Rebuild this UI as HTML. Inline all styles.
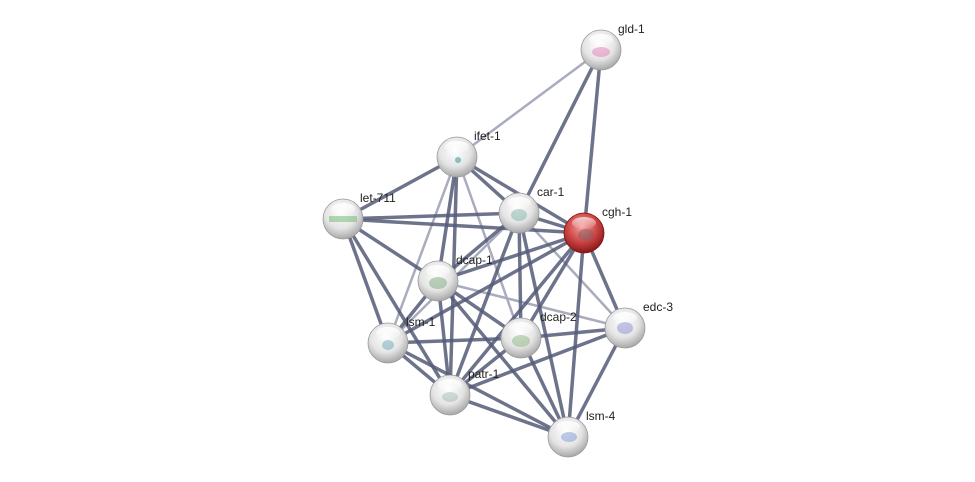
<!DOCTYPE html>
<html><head><meta charset="utf-8"><style>html,body{margin:0;padding:0;background:#fff;}svg{display:block}</style></head>
<body>
<svg width="975" height="482" viewBox="0 0 975 482" xmlns="http://www.w3.org/2000/svg">
<defs>
<radialGradient id="g" cx="45%" cy="35%" r="65%">
<stop offset="0" stop-color="#ffffff"/><stop offset="0.6" stop-color="#e4e4e4"/><stop offset="1" stop-color="#a8a8a8"/>
</radialGradient>
<radialGradient id="r" cx="45%" cy="35%" r="65%">
<stop offset="0" stop-color="#f4a0a0"/><stop offset="0.55" stop-color="#d04848"/><stop offset="1" stop-color="#8a1818"/>
</radialGradient>
<linearGradient id="hl" x1="0" y1="0" x2="0" y2="1"><stop offset="0" stop-color="#fff" stop-opacity="0.95"/><stop offset="1" stop-color="#fff" stop-opacity="0.1"/></linearGradient>
</defs>
<g stroke-linecap="round">
<g stroke="#a9acbd" stroke-width="2.5">
<line x1="601" y1="50" x2="457" y2="157"/>
<line x1="457" y1="157" x2="388" y2="343"/>
<line x1="457" y1="157" x2="521" y2="338"/>
<line x1="519" y1="213" x2="388" y2="343"/>
<line x1="519" y1="213" x2="625" y2="328"/>
<line x1="438" y1="281" x2="625" y2="328"/>
</g>
<g stroke="#555b78" stroke-width="3.5" stroke-opacity="0.85">
<line x1="601" y1="50" x2="519" y2="213"/>
<line x1="601" y1="50" x2="584" y2="233"/>
<line x1="457" y1="157" x2="343" y2="219"/>
<line x1="457" y1="157" x2="519" y2="213"/>
<line x1="457" y1="157" x2="584" y2="233"/>
<line x1="457" y1="157" x2="438" y2="281"/>
<line x1="457" y1="157" x2="450" y2="395"/>
<line x1="343" y1="219" x2="519" y2="213"/>
<line x1="343" y1="219" x2="584" y2="233"/>
<line x1="343" y1="219" x2="438" y2="281"/>
<line x1="343" y1="219" x2="388" y2="343"/>
<line x1="343" y1="219" x2="450" y2="395"/>
<line x1="519" y1="213" x2="584" y2="233"/>
<line x1="519" y1="213" x2="438" y2="281"/>
<line x1="519" y1="213" x2="521" y2="338"/>
<line x1="519" y1="213" x2="450" y2="395"/>
<line x1="519" y1="213" x2="568" y2="437"/>
<line x1="584" y1="233" x2="438" y2="281"/>
<line x1="584" y1="233" x2="625" y2="328"/>
<line x1="584" y1="233" x2="521" y2="338"/>
<line x1="584" y1="233" x2="388" y2="343"/>
<line x1="584" y1="233" x2="450" y2="395"/>
<line x1="584" y1="233" x2="568" y2="437"/>
<line x1="438" y1="281" x2="388" y2="343"/>
<line x1="438" y1="281" x2="521" y2="338"/>
<line x1="438" y1="281" x2="450" y2="395"/>
<line x1="438" y1="281" x2="568" y2="437"/>
<line x1="388" y1="343" x2="521" y2="338"/>
<line x1="388" y1="343" x2="450" y2="395"/>
<line x1="388" y1="343" x2="568" y2="437"/>
<line x1="521" y1="338" x2="450" y2="395"/>
<line x1="521" y1="338" x2="625" y2="328"/>
<line x1="521" y1="338" x2="568" y2="437"/>
<line x1="450" y1="395" x2="625" y2="328"/>
<line x1="450" y1="395" x2="568" y2="437"/>
<line x1="625" y1="328" x2="568" y2="437"/>
</g>
</g>
<g>
<g transform="translate(601,50)"><circle r="20" fill="url(#g)" stroke="#999" stroke-width="0.8"/><ellipse cx="0" cy="-10" rx="12" ry="6" fill="url(#hl)"/><ellipse cx="0" cy="2" rx="9" ry="5" fill="#e070b0" opacity="0.45"/></g>
<g transform="translate(457,157)"><circle r="20" fill="url(#g)" stroke="#999" stroke-width="0.8"/><ellipse cx="0" cy="-10" rx="12" ry="6" fill="url(#hl)"/><circle cx="1" cy="3" r="3" fill="#40a0a0" opacity="0.6"/></g>
<g transform="translate(343,219)"><circle r="20" fill="url(#g)" stroke="#999" stroke-width="0.8"/><ellipse cx="0" cy="-10" rx="12" ry="6" fill="url(#hl)"/><rect x="-14" y="-3" width="28" height="6" fill="#60b060" opacity="0.45"/></g>
<g transform="translate(519,213)"><circle r="20" fill="url(#g)" stroke="#999" stroke-width="0.8"/><ellipse cx="0" cy="-10" rx="12" ry="6" fill="url(#hl)"/><ellipse cx="0" cy="2" rx="8" ry="6" fill="#70b0a0" opacity="0.45"/></g>
<g transform="translate(584,233)"><circle r="20" fill="url(#r)" stroke="#7a1010" stroke-width="0.8"/><ellipse cx="0" cy="-10" rx="12" ry="6" fill="url(#hl)" opacity="0.7"/><ellipse cx="2" cy="2" rx="8" ry="6" fill="#806060" opacity="0.5"/></g>
<g transform="translate(438,281)"><circle r="20" fill="url(#g)" stroke="#999" stroke-width="0.8"/><ellipse cx="0" cy="-10" rx="12" ry="6" fill="url(#hl)"/><ellipse cx="0" cy="2" rx="9" ry="6" fill="#70a070" opacity="0.45"/></g>
<g transform="translate(625,328)"><circle r="20" fill="url(#g)" stroke="#999" stroke-width="0.8"/><ellipse cx="0" cy="-10" rx="12" ry="6" fill="url(#hl)"/><ellipse cx="0" cy="0" rx="8" ry="6" fill="#8080d0" opacity="0.45"/></g>
<g transform="translate(388,343)"><circle r="20" fill="url(#g)" stroke="#999" stroke-width="0.8"/><ellipse cx="0" cy="-10" rx="12" ry="6" fill="url(#hl)"/><ellipse cx="0" cy="2" rx="6" ry="5" fill="#60a0b0" opacity="0.45"/></g>
<g transform="translate(521,338)"><circle r="20" fill="url(#g)" stroke="#999" stroke-width="0.8"/><ellipse cx="0" cy="-10" rx="12" ry="6" fill="url(#hl)"/><ellipse cx="0" cy="3" rx="9" ry="6" fill="#80b070" opacity="0.45"/></g>
<g transform="translate(450,395)"><circle r="20" fill="url(#g)" stroke="#999" stroke-width="0.8"/><ellipse cx="0" cy="-10" rx="12" ry="6" fill="url(#hl)"/><ellipse cx="0" cy="2" rx="8" ry="5" fill="#90b0a0" opacity="0.4"/></g>
<g transform="translate(568,437)"><circle r="20" fill="url(#g)" stroke="#999" stroke-width="0.8"/><ellipse cx="0" cy="-10" rx="12" ry="6" fill="url(#hl)"/><ellipse cx="1" cy="0" rx="8" ry="5" fill="#7090d0" opacity="0.45"/></g>
</g>
<g font-family="Liberation Sans, sans-serif" font-size="12" fill="#222">
<text x="618" y="33">gld-1</text>
<text x="474" y="140">ifet-1</text>
<text x="360" y="202">let-711</text>
<text x="537" y="196">car-1</text>
<text x="602" y="216">cgh-1</text>
<text x="456" y="264">dcap-1</text>
<text x="643" y="311">edc-3</text>
<text x="406" y="326">lsm-1</text>
<text x="540" y="321">dcap-2</text>
<text x="468" y="378">patr-1</text>
<text x="586" y="420">lsm-4</text>
</g>
</svg>
</body></html>
